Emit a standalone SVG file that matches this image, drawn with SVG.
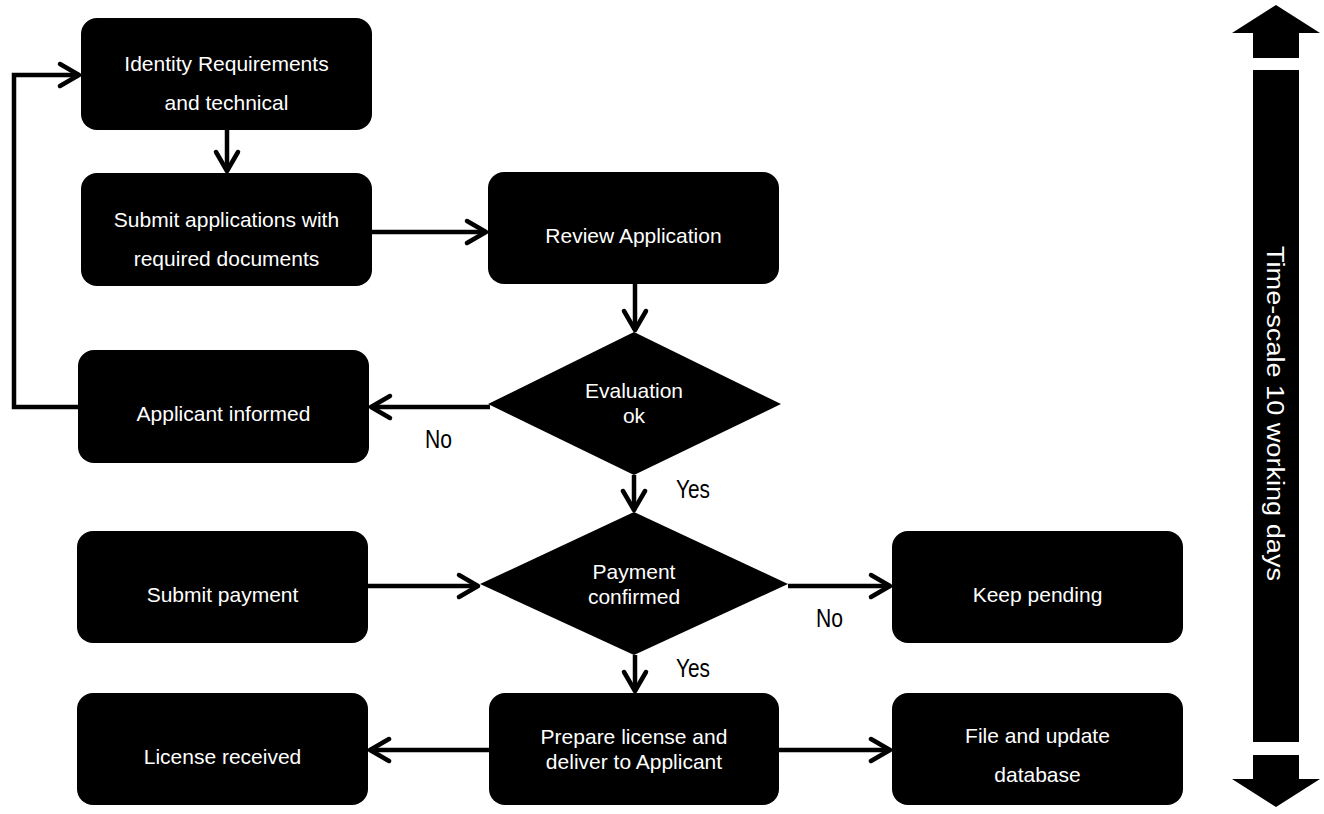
<svg xmlns="http://www.w3.org/2000/svg" width="1324" height="814" viewBox="0 0 1324 814">
  <style>
    .box { fill: #000; }
    .t { font-family: "Liberation Sans", Arial, sans-serif; font-size: 21px; fill: #fff; text-anchor: middle; }
    .lbl { font-family: "Liberation Sans", Arial, sans-serif; font-size: 25px; fill: #000; }
    .edge { fill: none; stroke: #000; stroke-width: 4.5; marker-end: url(#arr); }
    .ts { font-family: "Liberation Sans", Arial, sans-serif; font-size: 23px; fill: #fff; }
  </style>
  <defs>
    <marker id="arr" markerUnits="userSpaceOnUse" viewBox="-24 -16 28 32" markerWidth="28" markerHeight="32" refX="0" refY="0" orient="auto">
      <path d="M-19,-11 L0,0 L-19,11" fill="none" stroke="#000" stroke-width="4.5" stroke-linecap="round" stroke-linejoin="round"/>
    </marker>
  </defs>
  <rect width="1324" height="814" fill="#fff"/>

  <g id="connectors">
    <path class="edge" d="M227,130 V171"/>
    <path class="edge" d="M372,232 H486"/>
    <path class="edge" d="M635,284 V330"/>
    <path class="edge" d="M490,407 H371"/>
    <path class="edge" d="M78,407 H14 V75 H79"/>
    <path class="edge" d="M634,475 V510"/>
    <path class="edge" d="M368,586 H478"/>
    <path class="edge" d="M788,586 H890"/>
    <path class="edge" d="M635,655 V691"/>
    <path class="edge" d="M489,750 H370"/>
    <path class="edge" d="M779,750 H890"/>
    <text class="lbl" x="425" y="448" textLength="27" lengthAdjust="spacingAndGlyphs">No</text>
    <text class="lbl" x="676" y="498" textLength="34" lengthAdjust="spacingAndGlyphs">Yes</text>
    <text class="lbl" x="816" y="627" textLength="27" lengthAdjust="spacingAndGlyphs">No</text>
    <text class="lbl" x="676" y="677" textLength="34" lengthAdjust="spacingAndGlyphs">Yes</text>
  </g>

  <g id="n1">
    <rect class="box" x="81" y="18" width="291" height="112" rx="16"/>
    <text class="t" x="226.5" y="71">Identity Requirements</text>
    <text class="t" x="226.5" y="110">and technical</text>
  </g>
  <g id="n2">
    <rect class="box" x="81" y="173" width="291" height="113" rx="16"/>
    <text class="t" x="226.5" y="227">Submit applications with</text>
    <text class="t" x="226.5" y="266">required documents</text>
  </g>
  <g id="n3">
    <rect class="box" x="488" y="172" width="291" height="112" rx="16"/>
    <text class="t" x="633.5" y="243">Review Application</text>
  </g>
  <g id="n4">
    <polygon class="box" points="634,332 781,404 634,475 488,404"/>
    <text class="t" x="634" y="398">Evaluation</text>
    <text class="t" x="634" y="423">ok</text>
  </g>
  <g id="n5">
    <rect class="box" x="78" y="350" width="291" height="113" rx="16"/>
    <text class="t" x="223.5" y="421">Applicant informed</text>
  </g>
  <g id="n6">
    <rect class="box" x="77" y="531" width="291" height="112" rx="16"/>
    <text class="t" x="222.5" y="602">Submit payment</text>
  </g>
  <g id="n7">
    <polygon class="box" points="634,512 788,584 634,655 480,584"/>
    <text class="t" x="634" y="579">Payment</text>
    <text class="t" x="634" y="604">confirmed</text>
  </g>
  <g id="n8">
    <rect class="box" x="892" y="531" width="291" height="112" rx="16"/>
    <text class="t" x="1037.5" y="602">Keep pending</text>
  </g>
  <g id="n9">
    <rect class="box" x="77" y="693" width="291" height="112" rx="16"/>
    <text class="t" x="222.5" y="764">License received</text>
  </g>
  <g id="n10">
    <rect class="box" x="489" y="693" width="290" height="112" rx="16"/>
    <text class="t" x="634" y="744">Prepare license and</text>
    <text class="t" x="634" y="769">deliver to Applicant</text>
  </g>
  <g id="n11">
    <rect class="box" x="892" y="693" width="291" height="112" rx="16"/>
    <text class="t" x="1037.5" y="743">File and update</text>
    <text class="t" x="1037.5" y="782">database</text>
  </g>

  <g id="timescale">
    <polygon class="box" points="1276,5 1320,33 1299,33 1299,58 1253,58 1253,33 1232,33"/>
    <rect class="box" x="1253" y="70" width="46" height="672"/>
    <polygon class="box" points="1253,755 1299,755 1299,779 1320,779 1276,807 1232,779 1253,779"/>
    <text class="ts" transform="translate(1267,246) rotate(90)" x="0" y="0" textLength="335" lengthAdjust="spacingAndGlyphs">Time-scale 10 working days</text>
  </g>
</svg>
